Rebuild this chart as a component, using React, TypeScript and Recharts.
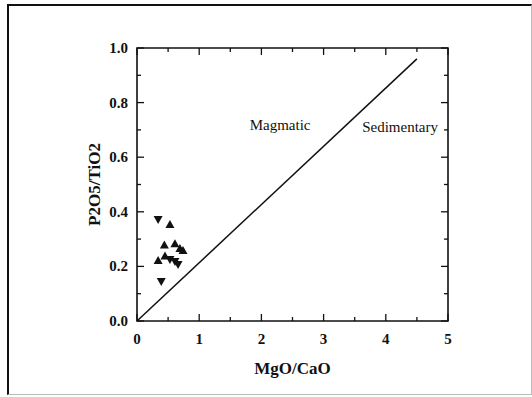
import { ScatterChart, Scatter, XAxis, YAxis, ReferenceDot, ReferenceArea } from 'recharts';

// samples plotted as upward triangles
const upMgOCaO = [0.53, 0.44, 0.61, 0.69, 0.74, 0.34, 0.45];
const upP2O5TiO2 = [0.355, 0.28, 0.285, 0.267, 0.26, 0.223, 0.24];
// samples plotted as downward triangles
const downMgOCaO = [0.34, 0.53, 0.61, 0.66, 0.39];
const downP2O5TiO2 = [0.37, 0.223, 0.216, 0.205, 0.143];

const xDomain = [0, 5];
const yDomain = [0, 1];
const xTicks = [0, 0.5, 1, 1.5, 2, 2.5, 3, 3.5, 4, 4.5, 5];
const yTicks = [0, 0.1, 0.2, 0.3, 0.4, 0.5, 0.6, 0.7, 0.8, 0.9, 1];
// magmatic / sedimentary dividing line
const boundary = [
  { x: 0, y: 0 },
  { x: 4.5, y: 0.96 },
];
const fieldLabels = [
  { x: 2.3, y: 0.72, text: 'Magmatic' },
  { x: 4.23, y: 0.71, text: 'Sedimentary' },
];

const INK = '#111';
const FONT = '"Liberation Serif", "Times New Roman", "DejaVu Serif", serif';

const upData = upMgOCaO.map((x, i) => ({ x, y: upP2O5TiO2[i] }));
const downData = downMgOCaO.map((x, i) => ({ x, y: downP2O5TiO2[i] }));

type Side = 'bottom' | 'left' | 'top' | 'right';

function makeTick(side: Side) {
  return (props: any) => {
    const { x, y, payload } = props;
    const v = payload.value;
    const major =
      side === 'bottom' || side === 'top' ? Number.isInteger(v) : Math.round(v * 10) % 2 === 0;
    const len = major ? 7 : 4;
    let x2 = x;
    let y2 = y;
    if (side === 'bottom') y2 = y - len;
    if (side === 'top') y2 = y + len;
    if (side === 'left') x2 = x + len;
    if (side === 'right') x2 = x - len;
    return (
      <g>
        <line x1={x} y1={y} x2={x2} y2={y2} stroke={INK} strokeWidth={1.3} />
        {side === 'bottom' && major && (
          <text x={x} y={y + 23} textAnchor="middle" style={{ fontFamily: FONT }} fontSize={15} fontWeight="bold" fill={INK}>
            {String(v)}
          </text>
        )}
        {side === 'left' && major && (
          <text x={x - 9} y={y + 5} textAnchor="end" style={{ fontFamily: FONT }} fontSize={15} fontWeight="bold" fill={INK}>
            {v.toFixed(1)}
          </text>
        )}
      </g>
    );
  };
}

function Triangle(props: any) {
  const { cx, cy, down } = props;
  const w = 4.5;
  const h = 4;
  const pts = down
    ? `${cx - w},${cy - h} ${cx + w},${cy - h} ${cx},${cy + h}`
    : `${cx - w},${cy + h} ${cx + w},${cy + h} ${cx},${cy - h}`;
  return <polygon points={pts} fill={INK} />;
}

export default function App() {
  return (
    <div
      style={{
        position: 'absolute',
        left: 0,
        top: 0,
        width: 532,
        height: 397,
        background: '#fff',
        fontFamily: FONT,
      }}
    >
      <div
        style={{
          position: 'absolute',
          left: 7,
          top: 4,
          width: 522,
          height: 388,
          borderTop: '2px solid #111',
          borderLeft: '2px solid #111',
          borderRight: '1px solid #bbb',
          borderBottom: '1px solid #bbb',
        }}
      />
      <div style={{ position: 'absolute', left: 0, top: 0 }}>
        <ScatterChart width={532} height={397} margin={{ top: 47, right: 83, bottom: 0, left: 0 }}>
          <XAxis
            type="number"
            dataKey="x"
            domain={xDomain}
            ticks={xTicks}
            interval={0}
            height={76}
            tickSize={0}
            tickMargin={0}
            tickLine={false}
            axisLine={false}
            tick={makeTick('bottom')}
            label={{
              value: 'MgO/CaO',
              content: (p: any) => (
                <text
                  x={p.viewBox.x + p.viewBox.width / 2}
                  y={p.viewBox.y + 53}
                  textAnchor="middle"
                  style={{ fontFamily: FONT }}
                  fontSize={17}
                  fontWeight="bold"
                  fill={INK}
                >
                  MgO/CaO
                </text>
              ),
            }}
          />
          <XAxis
            xAxisId="top"
            orientation="top"
            type="number"
            dataKey="x"
            domain={xDomain}
            ticks={xTicks}
            interval={0}
            height={1}
            tickSize={0}
            tickMargin={0}
            tickLine={false}
            axisLine={false}
            tick={makeTick('top')}
          />
          <YAxis
            type="number"
            dataKey="y"
            domain={yDomain}
            ticks={yTicks}
            interval={0}
            width={137}
            tickSize={0}
            tickMargin={0}
            tickLine={false}
            axisLine={false}
            tick={makeTick('left')}
            label={{
              value: 'P2O5/TiO2',
              content: (p: any) => {
                const cx = p.viewBox.x + 100;
                const cy = p.viewBox.y + p.viewBox.height / 2;
                return (
                  <text
                    x={cx}
                    y={cy}
                    transform={`rotate(-90 ${cx} ${cy})`}
                    textAnchor="middle"
                    style={{ fontFamily: FONT }}
                    fontSize={17}
                    fontWeight="bold"
                    fill={INK}
                  >
                    P2O5/TiO2
                  </text>
                );
              },
            }}
          />
          <YAxis
            yAxisId="right"
            orientation="right"
            type="number"
            dataKey="y"
            domain={yDomain}
            ticks={yTicks}
            interval={0}
            width={1}
            tickSize={0}
            tickMargin={0}
            tickLine={false}
            axisLine={false}
            tick={makeTick('right')}
          />
          <ReferenceArea
            x1={xDomain[0]}
            x2={xDomain[1]}
            y1={yDomain[0]}
            y2={yDomain[1]}
            fill="none"
            fillOpacity={0}
            stroke={INK}
            strokeWidth={1.6}
            ifOverflow="visible"
          />
          <Scatter
            data={boundary}
            xAxisId="top"
            yAxisId="right"
            line={{ stroke: INK, strokeWidth: 1.5 }}
            shape={() => <g />}
            isAnimationActive={false}
          />
          {fieldLabels.map((f) => (
            <ReferenceDot
              key={f.text}
              x={f.x}
              y={f.y}
              r={0}
              stroke="none"
              label={{ value: f.text, position: 'center', fontSize: 15, fill: INK, style: { fontFamily: FONT } }}
            />
          ))}
          <Scatter data={upData} isAnimationActive={false} shape={(p: any) => <Triangle {...p} />} />
          <Scatter data={downData} isAnimationActive={false} shape={(p: any) => <Triangle {...p} down />} />
        </ScatterChart>
      </div>
    </div>
  );
}
